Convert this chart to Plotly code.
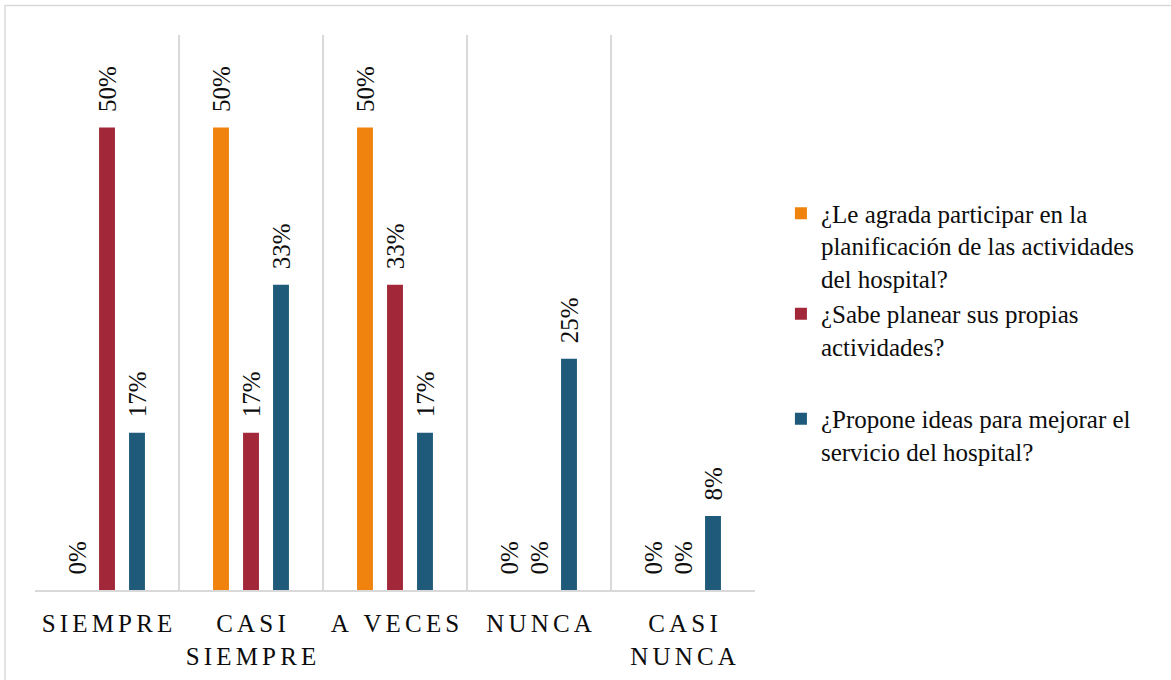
import plotly.graph_objects as go

categories = ["SIEMPRE", "CASI<br>SIEMPRE", "A VECES", "NUNCA", "CASI<br>NUNCA"]
series_names = [
    "¿Le agrada participar en la<br>planificación de las actividades<br>del hospital?",
    "¿Sabe planear sus propias<br>actividades?",
    "¿Propone ideas para mejorar el<br>servicio del hospital?",
]
s1 = [0, 50, 50, 0, 0]
s2 = [50, 17, 33, 0, 0]
s3 = [17, 33, 17, 25, 8]
colors = ["#EF830E", "#A22839", "#1F5A7A"]
groups = ["a", "a", "b"]

W, H = 1171, 680
L, R, T, B = 35, 755, 35, 590
SERIF = "Liberation Serif, Times New Roman, serif"

def spaced(label):
    sp = "\u2006"
    return "<br>".join(sp.join(list(part)) for part in label.split("<br>"))

tick_text = [spaced(c) for c in categories]

fig = go.Figure()
for name, vals, col, g in zip(series_names, [s1, s2, s3], colors, groups):
    fig.add_trace(go.Bar(
        x=categories, y=vals, name=name, legendgroup=g,
        marker=dict(color=col, line=dict(width=0)),
        text=[f"\u00a0\u00a0{v}%" for v in vals],
        textposition="outside",
        textangle=-90,
        constraintext="none",
        textfont=dict(family=SERIF, size=25, color="#0D0D0D"),
        cliponaxis=False,
    ))

fig.update_layout(
    width=W, height=H,
    margin=dict(l=L, r=W - R, t=T, b=H - B, autoexpand=False),
    paper_bgcolor="white", plot_bgcolor="white",
    barmode="group", bargap=0.375, bargroupgap=0.47,
    font=dict(family=SERIF, color="#0D0D0D"),
    showlegend=True,
    legend=dict(
        x=1.036, y=0.72, xanchor="left", yanchor="top",
        font=dict(family=SERIF, size=25, color="#0D0D0D"),
        valign="top", itemwidth=30, tracegroupgap=37,
        traceorder="grouped",
        bgcolor="rgba(0,0,0,0)",
    ),
    uniformtext=dict(mode=False),
)
fig.update_xaxes(
    type="category", automargin=False,
    tickmode="array", tickvals=categories, ticktext=tick_text,
    tickson="boundaries", showgrid=True, gridcolor="#D9D9D9", gridwidth=2,
    showline=True, linecolor="#D9D9D9", linewidth=2,
    ticks="", ticklabelstandoff=10,
    tickfont=dict(family=SERIF, size=25, color="#0D0D0D"),
)
fig.update_yaxes(range=[0, 60], showgrid=False, showticklabels=False, zeroline=False,
                 showline=False, automargin=False)

# outer border
fig.add_shape(type="rect", xref="paper", yref="paper",
              x0=(5 - L) / (R - L), x1=(1175 - L) / (R - L),
              y0=(B - 690) / (B - T), y1=(B - 5.5) / (B - T),
              line=dict(color="#D9D9D9", width=1.5), fillcolor="rgba(0,0,0,0)", layer="below")

fig.write_html("out.html")
